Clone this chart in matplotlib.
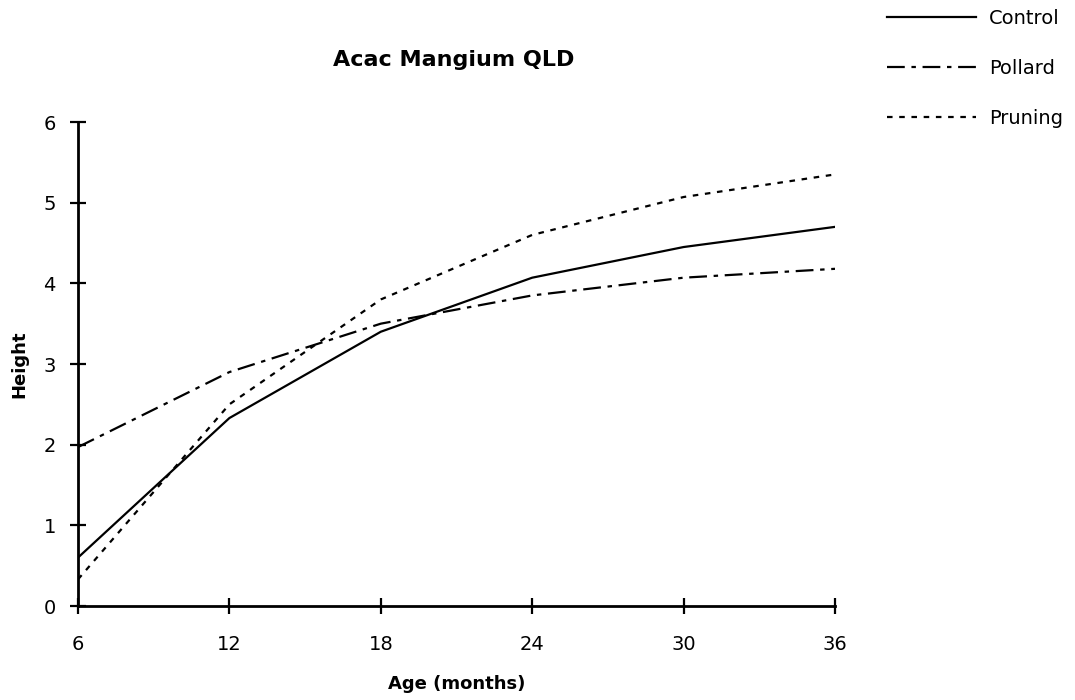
import matplotlib
matplotlib.use("Agg")
import matplotlib.pyplot as plt

# Tree height by age for three treatments
age_months = [6, 12, 18, 24, 30, 36]
control = [0.60, 2.33, 3.40, 4.07, 4.45, 4.70]
pollard = [1.97, 2.90, 3.50, 3.85, 4.07, 4.18]
pruning = [0.33, 2.50, 3.80, 4.60, 5.07, 5.35]

plt.rcParams['font.family'] = ['DejaVu Sans']

fig = plt.figure(figsize=(10.75, 7.0), dpi=100)
ax = fig.add_axes([78 / 1075, 1 - 606 / 700, (835 - 78) / 1075, (606 - 122) / 700])

lw = 1.6
ax.plot(age_months, control, color='black', lw=lw, linestyle='-', label='Control')
ax.plot(age_months, pollard, color='black', lw=lw, linestyle=(0, (8, 3, 2, 3)), label='Pollard')
ax.plot(age_months, pruning, color='black', lw=lw, linestyle=(0, (2.5, 3)), label='Pruning')

ax.set_xlim(6, 36)
ax.set_ylim(0, 6)
ax.set_xticks(age_months)
ax.set_yticks(range(0, 7))
for side in ('top', 'right'):
    ax.spines[side].set_visible(False)
for side in ('left', 'bottom'):
    ax.spines[side].set_linewidth(2.0)
ax.tick_params(direction='inout', length=12, width=1.6, labelsize=14)
ax.tick_params(axis='x', pad=15)
ax.tick_params(axis='y', pad=10)

ax.set_xlabel('Age (months)', fontsize=13, fontweight='bold', labelpad=15)
ax.set_ylabel('Height', fontsize=13, fontweight='bold', labelpad=11)
fig.text(454 / 1075, 1 - 60 / 700, 'Acac Mangium QLD', fontsize=16, fontweight='bold',
         ha='center', va='center')

fig.legend(loc='upper left', bbox_to_anchor=(887 / 1075, 1 - 9 / 700), frameon=False,
           fontsize=14, handlelength=4.6, labelspacing=1.6, handletextpad=0.65,
           borderpad=0, borderaxespad=0)

fig.savefig('out.png', dpi=100, facecolor='white')
